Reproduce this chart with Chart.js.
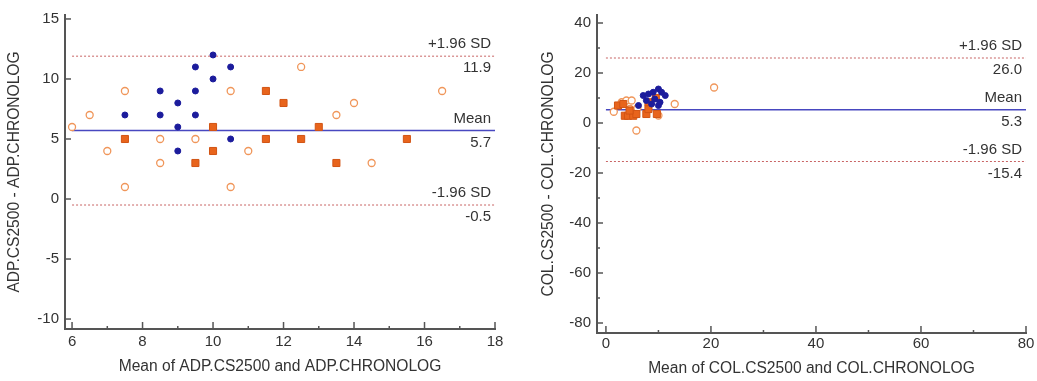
<!DOCTYPE html>
<html>
<head>
<meta charset="utf-8">
<script src="https://cdn.jsdelivr.net/npm/chart.js@4.4.1/dist/chart.umd.min.js"></script>
<style>
  html, body { margin: 0; padding: 0; background: #fff; }
  #wrap { position: relative; width: 1037px; height: 381px; }
  #adpBox { position: absolute; left: 0; top: 0; width: 518px; height: 381px; }
  #colBox { position: absolute; left: 518px; top: 0; width: 519px; height: 381px; }
</style>
</head>
<body>
<div id="wrap">
  <div id="adpBox"><canvas id="adpChart"></canvas></div>
  <div id="colBox"><canvas id="colChart"></canvas></div>
</div>
<script>
// ADP chart data (mean, difference)
const adpBlueX = [7.5, 8.5, 8.5, 9, 9, 9, 9.5, 9.5, 9.5, 10, 10, 10.5, 10.5];
const adpBlueY = [7, 9, 7, 8, 6, 4, 11, 9, 7, 12, 10, 11, 5];
const adpSquareX = [7.5, 9.5, 10, 10, 11.5, 12, 11.5, 12.5, 13, 13.5, 15.5];
const adpSquareY = [5, 3, 6, 4, 9, 8, 5, 5, 6, 3, 5];
const adpOpenX = [6, 6.5, 7, 7.5, 7.5, 8.5, 8.5, 9.5, 10.5, 10.5, 11, 12.5, 13.5, 14, 14.5, 16.5];
const adpOpenY = [6, 7, 4, 9, 1, 5, 3, 5, 9, 1, 4, 11, 7, 8, 3, 9];
const adpLimits = [11.9, 5.7, -0.5];
const adpLimitX = [6, 18];
const adpXTicks = [6, 8, 10, 12, 14, 16, 18];
const adpXMinor = [7, 9, 11, 13, 15, 17];
const adpYTicks = [-10, -5, 0, 5, 10, 15];

// COL chart data
const colBlueX = [6.2, 7.1, 7.7, 8.1, 8.7, 9, 9.3, 10, 10, 10.3, 10.6, 11.3];
const colBlueY = [7, 11, 9, 11.6, 7.6, 12.3, 9.6, 13.6, 7, 8.3, 12.3, 11];
const colSquareX = [2.3, 3.3, 3.6, 4.2, 5.2, 5.8, 7.7, 8.1, 8.1, 9.7, 9.5, 4.5];
const colSquareY = [7, 7.6, 2.9, 2.9, 2.9, 3.6, 3.6, 5.6, 8.3, 3.6, 10, 5];
const colOpenX = [1.5, 3, 3.9, 4.9, 4.6, 10, 13.1, 5.8, 20.6, 6];
const colOpenY = [4.5, 8.3, 9, 9, 5.6, 3, 7.6, -3, 14.2, 6];
const colLimits = [26.0, 5.3, -15.4];
const colLimitX = [0, 80];
const colXTicks = [0, 20, 40, 60, 80];
const colXMinor = [10, 30, 50, 70];
const colYTicks = [-80, -60, -40, -20, 0, 20, 40];
const colYMinor = [-70, -50, -30, -10, 10, 30];

const limitNames = ['+1.96 SD', 'Mean', '-1.96 SD'];

const FONT = '"Liberation Sans", Arial, sans-serif';
const AXIS = '#555';

function pts(xs, ys) {
    return xs.map((x, i) => ({ x: x, y: ys[i] }));
}

// inward ticks + limit line labels
const blandAltman = {
    id: 'blandAltman',
    afterDraw(chart, args, opts) {
        const ctx = chart.ctx;
        const area = chart.chartArea;
        const xs = chart.scales.x;
        const ys = chart.scales.y;
        ctx.save();
        ctx.strokeStyle = AXIS;
        ctx.lineWidth = 1.5;
        const tick = (scale, v, len) => {
            const p = scale.getPixelForValue(v);
            ctx.beginPath();
            if (scale.isHorizontal()) {
                ctx.moveTo(p, area.bottom);
                ctx.lineTo(p, area.bottom - len);
            } else {
                ctx.moveTo(area.left, p);
                ctx.lineTo(area.left + len, p);
            }
            ctx.stroke();
        };
        opts.xMajor.forEach(v => tick(xs, v, 7));
        opts.xMinor.forEach(v => tick(xs, v, 3));
        opts.yMajor.forEach(v => tick(ys, v, 6));
        opts.yMinor.forEach(v => tick(ys, v, 3));

        ctx.fillStyle = '#333';
        ctx.font = '15px ' + FONT;
        ctx.textAlign = 'right';
        ctx.textBaseline = 'middle';
        opts.limits.forEach((v, i) => {
            const py = ys.getPixelForValue(v);
            ctx.fillText(limitNames[i], area.right - 4, py - 12);
            ctx.fillText(v.toFixed(1), area.right - 4, py + 12);
        });
        ctx.restore();
    }
};

function buildConfig(d) {
    const limitSets = d.limits.map((v, i) => ({
        type: 'line',
        data: d.limitX.map(x => ({ x: x, y: v })),
        borderColor: i === 1 ? '#4848c0' : '#c86464',
        borderWidth: i === 1 ? 1.5 : 1,
        borderDash: i === 1 ? [] : [2, 2],
        pointRadius: 0,
        order: 5
    }));
    return {
        type: 'scatter',
        data: {
            datasets: limitSets.concat([
                {
                    data: pts(d.openX, d.openY),
                    pointStyle: 'circle',
                    pointRadius: 3.5,
                    backgroundColor: '#fff',
                    borderColor: '#f0965a',
                    borderWidth: 1.3,
                    order: 3
                },
                {
                    data: pts(d.squareX, d.squareY),
                    pointStyle: 'rect',
                    pointRadius: 5,
                    backgroundColor: '#e8641c',
                    borderColor: '#d25414',
                    borderWidth: 1,
                    order: 2
                },
                {
                    data: pts(d.blueX, d.blueY),
                    pointStyle: 'circle',
                    pointRadius: 3,
                    backgroundColor: '#1c1c9c',
                    borderColor: '#1c1c9c',
                    borderWidth: 1,
                    order: 1
                }
            ])
        },
        options: {
            responsive: true,
            maintainAspectRatio: false,
            animation: false,
            layout: { padding: d.padding },
            plugins: {
                legend: { display: false },
                tooltip: { enabled: false },
                blandAltman: {
                    xMajor: d.xTicks, xMinor: d.xMinor,
                    yMajor: d.yTicks, yMinor: d.yMinor,
                    limits: d.limits
                }
            },
            scales: {
                x: {
                    type: 'linear',
                    min: d.xMin, max: d.xMax,
                    afterBuildTicks: s => { s.ticks = d.xTicks.map(v => ({ value: v })); },
                    afterFit: s => { s.height = d.xHeight; },
                    grid: { display: false, drawTicks: false },
                    border: { display: true, color: AXIS, width: 2 },
                    ticks: { autoSkip: false, maxRotation: 0, padding: d.xPad, color: '#333', font: { family: FONT, size: 15 } },
                    title: { display: true, text: d.xTitle, color: '#333', font: { family: FONT, size: 15.6 }, padding: { top: 0, bottom: d.xTitlePad } }
                },
                y: {
                    type: 'linear',
                    min: d.yMin, max: d.yMax,
                    afterBuildTicks: s => { s.ticks = d.yTicks.map(v => ({ value: v })); },
                    afterFit: s => { s.width = d.yWidth; },
                    grid: { display: false, drawTicks: false },
                    border: { display: true, color: AXIS, width: 2 },
                    ticks: { autoSkip: false, padding: 6, color: '#333', font: { family: FONT, size: 15 } },
                    title: { display: true, text: d.yTitle, color: '#333', font: { family: FONT, size: 15.6 }, padding: { top: d.yTitlePad, bottom: 0 } }
                }
            }
        },
        plugins: [blandAltman]
    };
}

new Chart(document.getElementById('adpChart'), buildConfig({
    blueX: adpBlueX, blueY: adpBlueY,
    squareX: adpSquareX, squareY: adpSquareY,
    openX: adpOpenX, openY: adpOpenY,
    limits: adpLimits, limitX: adpLimitX,
    xTicks: adpXTicks, xMinor: adpXMinor,
    yTicks: adpYTicks, yMinor: [],
    xMin: 5.8, xMax: 18, yMin: -10.83, yMax: 15.33,
    padding: { top: 15, right: 23, left: 0, bottom: 0 },
    xHeight: 52, yWidth: 65, xPad: 4, xTitlePad: 5, yTitlePad: 5,
    xTitle: 'Mean of ADP.CS2500 and ADP.CHRONOLOG',
    yTitle: 'ADP.CS2500 - ADP.CHRONOLOG'
}));

new Chart(document.getElementById('colChart'), buildConfig({
    blueX: colBlueX, blueY: colBlueY,
    squareX: colSquareX, squareY: colSquareY,
    openX: colOpenX, openY: colOpenY,
    limits: colLimits, limitX: colLimitX,
    xTicks: colXTicks, xMinor: colXMinor,
    yTicks: colYTicks, yMinor: colYMinor,
    xMin: -1.7, xMax: 80, yMin: -84, yMax: 43.2,
    padding: { top: 13, right: 11, left: 0, bottom: 0 },
    xHeight: 48, yWidth: 79, xPad: 2, xTitlePad: 3, yTitlePad: 21,
    xTitle: 'Mean of COL.CS2500 and COL.CHRONOLOG',
    yTitle: 'COL.CS2500 - COL.CHRONOLOG'
}));
</script>
</body>
</html>
